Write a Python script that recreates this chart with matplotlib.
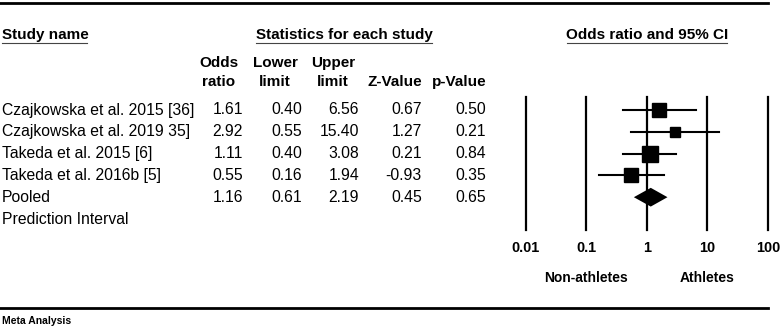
import numpy as np
import matplotlib.pyplot as plt
from matplotlib.transforms import blended_transform_factory

plt.rcParams['font.family'] = ['Liberation Sans', 'DejaVu Sans']

studies = ["Czajkowska et al. 2015 [36]", "Czajkowska et al. 2019 35]",
           "Takeda et al. 2015 [6]", "Takeda et al. 2016b [5]"]
odds = [1.61, 2.92, 1.11, 0.55]
lower = [0.40, 0.55, 0.40, 0.16]
upper = [6.56, 15.40, 3.08, 1.94]
zval = [0.67, 1.27, 0.21, -0.93]
pval = [0.50, 0.21, 0.84, 0.35]
pooled = {"name": "Pooled", "or": 1.16, "lo": 0.61, "hi": 2.19, "z": 0.45, "p": 0.65}
sq_size = [9.4, 7.2, 12.2, 10.0]  # marker size per study (weight)
ticks = [0.01, 0.1, 1, 10, 100]
tick_labels = ["0.01", "0.1", "1", "10", "100"]

W, H = 782, 328
fig = plt.figure(figsize=(W / 100, H / 100), dpi=100)

# table layer in pixel coordinates
tab = fig.add_axes([0, 0, 1, 1])
tab.set_xlim(0, W)
tab.set_ylim(H, 0)
tab.axis('off')

row0, dy = 110, 21.8
rows_y = [row0 + i * dy for i in range(6)]
fs = 11.3   # body text
fh = 11     # bold headers

tab.plot([0, 768], [3, 3], color='black', lw=2)
tab.plot([0, 768], [308, 308], color='black', lw=2)

tab.text(2, 35, "Study name", fontsize=fh, fontweight='bold', va='center', ha='left')
tab.plot([2, 87], [43, 43], color='#444444', lw=0.8)
tab.text(344, 35, "Statistics for each study", fontsize=fh, fontweight='bold', va='center', ha='center')
tab.plot([256, 432], [43, 43], color='#444444', lw=0.8)
tab.text(647, 35, "Odds ratio and 95% CI", fontsize=fh, fontweight='bold', va='center', ha='center')
tab.plot([567, 727], [43, 43], color='#444444', lw=0.8)

for x, top, bot in [(219, "Odds", "ratio"), (275, "Lower", "limit"), (333, "Upper", "limit")]:
    tab.text(x, 63, top, fontsize=fh, fontweight='bold', va='center', ha='center')
    tab.text(x, 82, bot, fontsize=fh, fontweight='bold', va='center', ha='center')
tab.text(395, 82, "Z-Value", fontsize=fh, fontweight='bold', va='center', ha='center')
tab.text(459, 82, "p-Value", fontsize=fh, fontweight='bold', va='center', ha='center')

col_right = [243, 302, 359, 422, 486]
names = studies + [pooled["name"]]
cols = [odds + [pooled["or"]], lower + [pooled["lo"]], upper + [pooled["hi"]],
        zval + [pooled["z"]], pval + [pooled["p"]]]
for i, name in enumerate(names):
    tab.text(2, rows_y[i], name, fontsize=fs, va='center', ha='left')
    for xr, col in zip(col_right, cols):
        tab.text(xr, rows_y[i], f"{col[i]:.2f}", fontsize=fs, va='center', ha='right')
tab.text(2, rows_y[5], "Prediction Interval", fontsize=fs, va='center', ha='left')

tab.text(2, 321, "Meta Analysis", fontsize=7.5, fontweight='bold', va='center', ha='left')

# forest plot
x0, x1 = 525.7, 768
y_top, y_bot = 97, 230
ax = fig.add_axes([x0 / W, 1 - y_bot / H, (x1 - x0) / W, (y_bot - y_top) / H])
ax.set_xscale('log')
ax.set_xlim(0.01, 100)
ax.set_ylim((y_bot - row0) / dy, (y_top - row0) / dy)
for s in ax.spines.values():
    s.set_visible(False)
ax.set_yticks([])
ax.set_xticks(ticks)
ax.set_xticklabels(tick_labels, fontsize=10.4, fontweight='bold')
ax.tick_params(axis='x', length=0, pad=8)
ax.minorticks_off()
ax.patch.set_alpha(0)
for t in ticks:
    ax.axvline(t, color='black', lw=1.6, clip_on=False)

for i in range(len(studies)):
    ax.plot([lower[i], upper[i]], [i, i], color='black', lw=1.5)
    ax.plot(odds[i], i, marker='s', color='black', markersize=sq_size[i], ls='none')

pi = 4
h = 0.43
ax.fill([pooled["lo"], pooled["or"], pooled["hi"], pooled["or"]],
        [pi, pi - h, pi, pi + h], color='black', lw=0)

tr = blended_transform_factory(ax.transData, tab.transData)
tab.text(0.1, 278, "Non-athletes", fontsize=10, fontweight='bold', va='center', ha='center', transform=tr)
tab.text(10, 278, "Athletes", fontsize=10, fontweight='bold', va='center', ha='center', transform=tr)

fig.savefig("out.png", dpi=100)
